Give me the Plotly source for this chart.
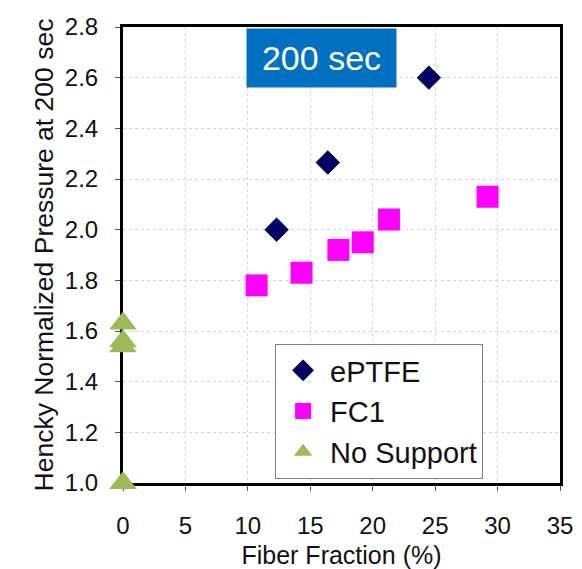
import plotly.graph_objects as go

# Data
eptfe_x = [12.3, 16.4, 24.5]
eptfe_y = [2.00, 2.265, 2.60]

fc1_x = [10.7, 14.3, 17.25, 19.2, 21.3, 29.2]
fc1_y = [1.78, 1.83, 1.92, 1.95, 2.04, 2.13]

nosup_x = [0, 0, 0, 0]
nosup_y = [1.00, 1.54, 1.56, 1.63]

x_ticks = [0, 5, 10, 15, 20, 25, 30, 35]
y_ticks = [1.0, 1.2, 1.4, 1.6, 1.8, 2.0, 2.2, 2.4, 2.6, 2.8]

FONT = "Liberation Sans, Arial, sans-serif"

fig = go.Figure()
fig.add_trace(go.Scatter(
    x=eptfe_x, y=eptfe_y, mode="markers", name="ePTFE", cliponaxis=False,
    marker=dict(symbol="diamond", size=18, color="#000066",
                line=dict(color="#000033", width=1))))
fig.add_trace(go.Scatter(
    x=fc1_x, y=fc1_y, mode="markers", name="FC1", cliponaxis=False,
    marker=dict(symbol="square", size=22, color="#FF00FF",
                line=dict(width=0))))
fig.add_trace(go.Scatter(
    x=nosup_x, y=nosup_y, mode="markers", name="No Support", cliponaxis=False,
    marker=dict(symbol="triangle-up", size=24, color="#9BBB59",
                line=dict(width=0))))

axis_common = dict(
    showgrid=True, gridcolor="#d6d6d6", griddash="dot", gridwidth=1,
    showline=True, linecolor="black", linewidth=3, mirror=True,
    ticks="outside", ticklen=5, tickcolor="#555555", tickwidth=1,
    zeroline=False, layer="below traces", automargin=False,
    tickfont=dict(family=FONT, size=24, color="#111111"),
)

fig.update_xaxes(
    range=[0, 35], tickvals=x_ticks, ticktext=[str(v) for v in x_ticks],
    title=dict(text="Fiber Fraction (%)", font=dict(family=FONT, size=25, color="#111111"),
               standoff=13),
    ticklabelstandoff=14,
    **axis_common)
fig.update_yaxes(
    range=[1.0, 2.8], tickvals=y_ticks, ticktext=[f"{v:.1f}" for v in y_ticks],
    title=dict(text="Hencky Normalized Pressure at 200 sec",
               font=dict(family=FONT, size=26.5, color="#111111"), standoff=4),
    ticklabelstandoff=12,
    **axis_common)

fig.add_annotation(
    text="200 sec", xref="paper", yref="paper", x=0.454, y=0.997,
    xanchor="center", yanchor="top", showarrow=False,
    width=147, height=56, bgcolor="#0070C0",
    font=dict(family=FONT, size=34, color="white"))

fig.update_layout(
    width=582, height=569,
    margin=dict(l=123, r=22, t=27, b=86),
    paper_bgcolor="white", plot_bgcolor="white",
    font=dict(family=FONT, color="#111111"),
    legend=dict(
        x=0.348, y=0.305, xanchor="left", yanchor="top",
        bgcolor="white", bordercolor="#808080", borderwidth=1,
        font=dict(family=FONT, size=29, color="#111111"),
        itemwidth=44, tracegroupgap=0,
    ),
    showlegend=True,
)

fig.write_html("out.html",
               config={"displayModeBar": False},
               post_script="document.body.style.margin='0';document.body.style.overflow='hidden';")
